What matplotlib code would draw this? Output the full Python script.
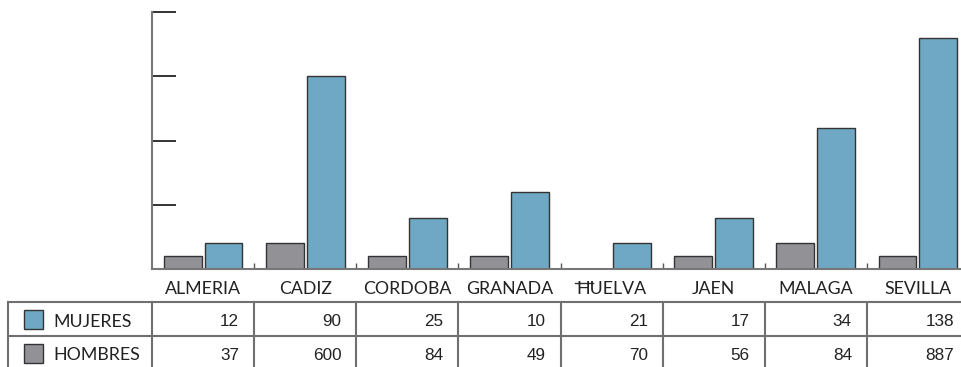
import matplotlib
matplotlib.use("Agg")
import matplotlib.pyplot as plt
from matplotlib.lines import Line2D
from matplotlib.patches import Rectangle

# Provinces and the two series
provincias = ["ALMERIA", "CADIZ", "CORDOBA", "GRANADA", "HUELVA", "JAEN", "MALAGA", "SEVILLA"]
barras_hombres = [1, 2, 1, 1, 0, 1, 2, 1]
barras_mujeres = [2, 15, 4, 6, 2, 4, 11, 18]
tabla_mujeres = [12, 90, 25, 10, 21, 17, 34, 138]
tabla_hombres = [37, 600, 84, 49, 70, 56, 84, 887]
series = ["MUJERES", "HOMBRES"]
y_ticks = [0, 5, 10, 15, 20]

AZUL = "#6fa8c5"
GRIS = "#929196"
LINEA = "#707070"

W, H = 961, 367
fig = plt.figure(figsize=(W / 100, H / 100), dpi=100)


def fx(px):
    return px / W


def fy(py):
    return 1 - py / H


# plot area in pixel coordinates
x0, x_end = 152, 969
y_top, y_base = 12, 269
ax = fig.add_axes([fx(x0), fy(y_base), fx(x_end - x0), (y_base - y_top) / H])
n = len(provincias)
idx = list(range(n))
ax.bar([i - 0.2 for i in idx], barras_hombres, width=0.37, color=GRIS,
       edgecolor="#333333", linewidth=1, zorder=2)
ax.bar([i + 0.2 for i in idx], barras_mujeres, width=0.37, color=AZUL,
       edgecolor="#333333", linewidth=1, zorder=2)
ax.set_xlim(-0.5, n - 0.5)
ax.set_ylim(0, 20)
ax.set_yticks(y_ticks)
ax.tick_params(axis="y", direction="in", length=17.3, width=1.2, color="#111111",
               labelleft=False)
ax.set_xticks([i + 0.5 for i in range(n - 1)])
ax.tick_params(axis="x", direction="in", length=4.5, width=1, color="#555555",
               labelbottom=False)
for s in ["top", "right"]:
    ax.spines[s].set_visible(False)
ax.spines["left"].set_color("#777777")
ax.spines["left"].set_linewidth(1.5)
ax.spines["bottom"].set_color("#777777")
ax.spines["bottom"].set_linewidth(1.5)
ax.patch.set_alpha(0)

col_w = (x_end - x0) / n
label_font = "Lato"
num_font = "Liberation Sans"
label_size = 12.8

# category labels
for i, p in enumerate(provincias):
    cx = x0 + col_w * (i + 0.5)
    fig.text(fx(cx), fy(294.5), p, ha="center", va="baseline",
             fontsize=label_size, family=label_font, color="#222222")

# stray stroke over the HUELVA label
fig.add_artist(Line2D([fx(575), fx(593)], [fy(283), fy(283)],
                      color="#333333", linewidth=1))

# data table grid
t_top, t_mid, t_bot = 302, 336, 372
for yy in (t_top, t_mid):
    fig.add_artist(Line2D([fx(8), fx(W + 20)], [fy(yy), fy(yy)],
                          color=LINEA, linewidth=1.5))
for k in range(n + 1):
    xx = x0 + col_w * k
    fig.add_artist(Line2D([fx(xx), fx(xx)], [fy(t_top), fy(t_bot)],
                          color=LINEA, linewidth=1.5))
fig.add_artist(Line2D([fx(8), fx(8)], [fy(t_top), fy(t_bot)],
                      color=LINEA, linewidth=1.5))

# table rows: legend key + values
rows = [(series[0], AZUL, tabla_mujeres, 319, 327), (series[1], GRIS, tabla_hombres, 353, 360)]
for name, col, vals, cy, base in rows:
    fig.add_artist(Rectangle((fx(24), fy(cy + 9.5)), fx(19), 19 / H,
                             facecolor=col, edgecolor="#333333", linewidth=1))
    fig.text(fx(53), fy(base), name, ha="left", va="baseline",
             fontsize=label_size, family=label_font, color="#222222")
    for i, v in enumerate(vals):
        rx = x0 + col_w * (i + 1) - 15
        fig.text(fx(rx), fy(base - 0.5), str(v), ha="right", va="baseline",
                 fontsize=12.3, family=num_font, color="#222222")

fig.savefig("out.png", dpi=100)
